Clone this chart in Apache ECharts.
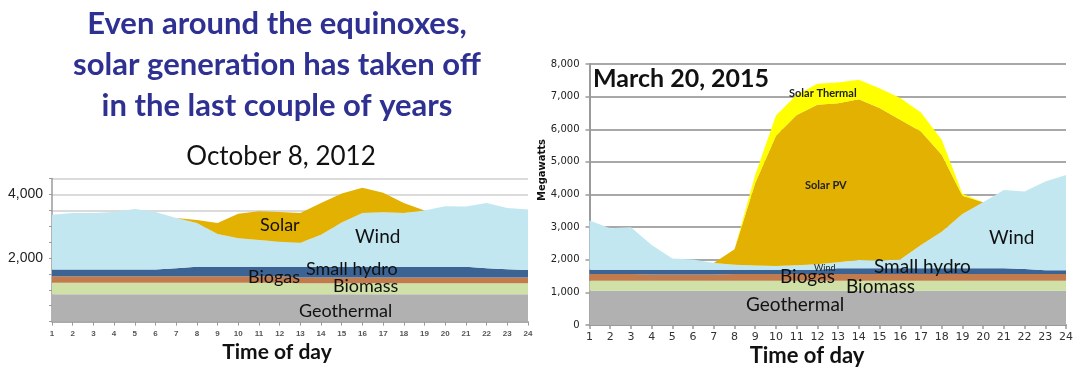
<!DOCTYPE html>
<html>
<head>
<meta charset="utf-8">
<script src="https://cdn.jsdelivr.net/npm/echarts@6/dist/echarts.min.js"></script>
<style>
html,body{margin:0;padding:0;background:#fff;}
#c{width:1080px;height:371px;}
</style>
</head>
<body>
<div id="c"></div>
<script>
const hours = ['1','2','3','4','5','6','7','8','9','10','11','12','13','14','15','16','17','18','19','20','21','22','23','24'];

// October 8, 2012 (MW)
const geo12     = [860,860,860,860,860,860,860,860,860,860,860,860,860,860,860,860,860,860,860,860,860,860,860,860];
const biomass12 = [365,365,365,365,365,365,365,365,365,365,365,365,345,345,345,345,345,345,345,345,345,345,345,345];
const biogas12  = [200,200,200,200,200,200,200,200,200,200,200,200,185,185,185,185,185,185,185,185,185,185,185,185];
const hydro12   = [215,215,215,215,215,215,255,300,300,300,300,300,335,335,335,335,335,335,335,335,335,285,260,235];
const wind12    = [1725,1775,1775,1810,1905,1810,1580,1375,1035,900,845,790,760,1005,1395,1690,1715,1690,1775,1905,1895,2060,1925,1900];
const solar12   = [0,0,0,0,0,0,0,100,340,765,900,935,930,1005,910,795,615,320,0,0,0,0,0,0];

// March 20, 2015 (MW)
const geo15     = [1050,1050,1050,1050,1050,1050,1050,1050,1050,1050,1050,1050,1050,1050,1050,1050,1050,1050,1050,1050,1050,1050,1050,1050];
const biomass15 = [310,310,310,310,310,310,310,310,310,310,310,310,310,310,310,310,310,310,310,310,310,310,310,310];
const biogas15  = [205,205,205,190,190,190,190,205,205,205,205,205,205,205,205,205,205,205,205,205,205,205,205,205];
const hydro15   = [125,125,125,140,140,140,140,125,125,125,125,125,175,175,175,175,175,175,175,175,175,155,115,115];
const wind15    = [1510,1275,1307,764,350,320,210,160,135,120,140,170,180,250,235,270,710,1120,1660,2020,2400,2370,2720,2920];
const pv15      = [0,0,0,0,0,0,0,470,2525,3990,4610,4890,4880,4930,4675,4280,3480,2355,560,0,0,0,0,0];
const thermal15 = [0,0,0,0,0,0,0,0,250,620,615,645,633,595,610,665,580,460,60,0,0,0,0,0];

const yTicks12 = [2000, 4000];

const C = {
  geo:'#b1b1b1', biomass:'#cfe1a7', biogas:'#c27b4c', hydro:'#3b6495',
  wind:'#c2e7f1', pv:'#e2b102', thermal:'#ffff00'
};

function fmt(v){ return String(v).replace(/\B(?=(\d{3})+(?!\d))/g, ','); }

function area(name, data, color, stack, idx){
  return {
    name, type:'line', data, stack, xAxisIndex:idx, yAxisIndex:idx,
    symbol:'none', smooth:false, silent:true,
    lineStyle:{width:0}, areaStyle:{color, opacity:1}, itemStyle:{color},
    emphasis:{disabled:true}
  };
}

const chart = echarts.init(document.getElementById('c'), null, {renderer:'canvas'});

const gs = 'Lato, "Open Sans", sans-serif';

chart.setOption({
  animation:false,
  grid:[
    {left:52, top:178.6, width:476, height:143, containLabel:false},
    {left:589.5, top:64, width:476.5, height:261, containLabel:false}
  ],
  xAxis:[
    {type:'category', gridIndex:0, data:hours, boundaryGap:false,
     axisLine:{lineStyle:{color:'#9a9a9a', width:1.5}},
     axisTick:{show:true, length:4, interval:0, lineStyle:{color:'#9a9a9a'}},
     axisLabel:{interval:0, margin:8, fontSize:8, fontWeight:'bold', color:'#555', fontFamily:'Arial, sans-serif'},
     splitLine:{show:false}},
    {type:'category', gridIndex:1, data:hours, boundaryGap:false,
     axisLine:{lineStyle:{color:'#9a9a9a', width:2}},
     axisTick:{show:true, length:4, interval:0, lineStyle:{color:'#9a9a9a', width:1.5}},
     axisLabel:{interval:0, margin:7, fontSize:11, color:'#333', fontFamily:'"DejaVu Sans", Verdana, sans-serif'},
     splitLine:{show:false}}
  ],
  yAxis:[
    {type:'value', gridIndex:0, min:0, max:4500, interval:500,
     axisLine:{show:true, lineStyle:{color:'#9a9a9a', width:1.5}},
     axisTick:{show:true, length:3, lineStyle:{color:'#9a9a9a'}},
     axisLabel:{margin:9, fontSize:14, color:'#222', fontFamily:'Arial, "Liberation Sans", sans-serif',
       formatter:v => yTicks12.indexOf(v) >= 0 ? fmt(v) : ''},
     splitLine:{show:true, lineStyle:{color:'#cfcfcf', width:1.5}}},
    {type:'value', gridIndex:1, min:0, max:8000, interval:1000,
     axisLine:{show:true, lineStyle:{color:'#9a9a9a', width:2}},
     axisTick:{show:true, length:4, lineStyle:{color:'#9a9a9a', width:1.5}},
     axisLabel:{margin:10, fontSize:10, color:'#222', fontFamily:'"DejaVu Sans", Verdana, sans-serif',
       formatter:v => fmt(v)},
     splitLine:{show:true, lineStyle:{color:'#a8a8a8', width:2}}}
  ],
  series:[
    area('Geothermal', geo12, C.geo, 'a', 0),
    area('Biomass', biomass12, C.biomass, 'a', 0),
    area('Biogas', biogas12, C.biogas, 'a', 0),
    area('Small hydro', hydro12, C.hydro, 'a', 0),
    area('Wind', wind12, C.wind, 'a', 0),
    area('Solar', solar12, C.pv, 'a', 0),
    area('Geothermal', geo15, C.geo, 'b', 1),
    area('Biomass', biomass15, C.biomass, 'b', 1),
    area('Biogas', biogas15, C.biogas, 'b', 1),
    area('Small hydro', hydro15, C.hydro, 'b', 1),
    area('Wind', wind15, C.wind, 'b', 1),
    area('Solar PV', pv15, C.pv, 'b', 1),
    area('Solar Thermal', thermal15, C.thermal, 'b', 1)
  ],
  graphic:[
    // main title
    {type:'text', x:277, y:3, z:100, style:{text:'Even around the equinoxes,\nsolar generation has taken off\nin the last couple of years',
      fontFamily:gs, fontWeight:'bold', fontSize:31, lineHeight:41, fill:'#2e3192', align:'center', verticalAlign:'top'}},
    {type:'text', x:281, y:144, z:100, style:{text:'October 8, 2012', fontFamily:gs, fontSize:26, fill:'#111', align:'center', verticalAlign:'top'}},
    // left chart labels
    {type:'text', x:260, y:216, z:100, style:{text:'Solar', fontFamily:gs, fontSize:18, fill:'#111'}},
    {type:'text', x:355, y:227, z:100, style:{text:'Wind', fontFamily:gs, fontSize:19, fill:'#111'}},
    {type:'text', x:306, y:260, z:100, style:{text:'Small hydro', fontFamily:gs, fontSize:18, fill:'#111'}},
    {type:'text', x:248, y:268, z:100, style:{text:'Biogas', fontFamily:gs, fontSize:18, fill:'#111'}},
    {type:'text', x:333, y:277, z:100, style:{text:'Biomass', fontFamily:gs, fontSize:18, fill:'#111'}},
    {type:'text', x:299, y:302, z:100, style:{text:'Geothermal', fontFamily:gs, fontSize:18, fill:'#111'}},
    {type:'text', x:277, y:342, z:100, style:{text:'Time of day', fontFamily:gs, fontWeight:'bold', fontSize:21, fill:'#111', align:'center'}},
    // right chart labels
    {type:'text', x:593, y:66, z:100, style:{text:'March 20, 2015', fontFamily:gs, fontWeight:'bold', fontSize:25, fill:'#111'}},
    {type:'text', x:789, y:88, z:100, style:{text:'Solar Thermal', fontFamily:gs, fontSize:11, fontWeight:'bold', fill:'#222'}},
    {type:'text', x:805, y:180, z:100, style:{text:'Solar PV', fontFamily:gs, fontSize:11, fontWeight:'bold', fill:'#222'}},
    {type:'text', x:814, y:264, z:100, style:{text:'Wind', fontFamily:gs, fontSize:9, fill:'#222'}},
    {type:'text', x:874, y:257, z:100, style:{text:'Small hydro', fontFamily:gs, fontSize:19, fill:'#111'}},
    {type:'text', x:989, y:228, z:100, style:{text:'Wind', fontFamily:gs, fontSize:19, fill:'#111'}},
    {type:'text', x:780, y:267, z:100, style:{text:'Biogas', fontFamily:gs, fontSize:19, fill:'#111'}},
    {type:'text', x:846, y:277, z:100, style:{text:'Biomass', fontFamily:gs, fontSize:19, fill:'#111'}},
    {type:'text', x:746, y:295, z:100, style:{text:'Geothermal', fontFamily:gs, fontSize:19, fill:'#111'}},
    {type:'text', x:807, y:345, z:100, style:{text:'Time of day', fontFamily:gs, fontWeight:'bold', fontSize:22, fill:'#111', align:'center'}},
    {type:'text', x:537, y:170, rotation:Math.PI/2, z:100, style:{text:'Megawatts', fontFamily:'"DejaVu Sans", Verdana, sans-serif', fontWeight:'bold', fontSize:10, fill:'#111', align:'center', verticalAlign:'top'}}
  ]
});
</script>
</body>
</html>
